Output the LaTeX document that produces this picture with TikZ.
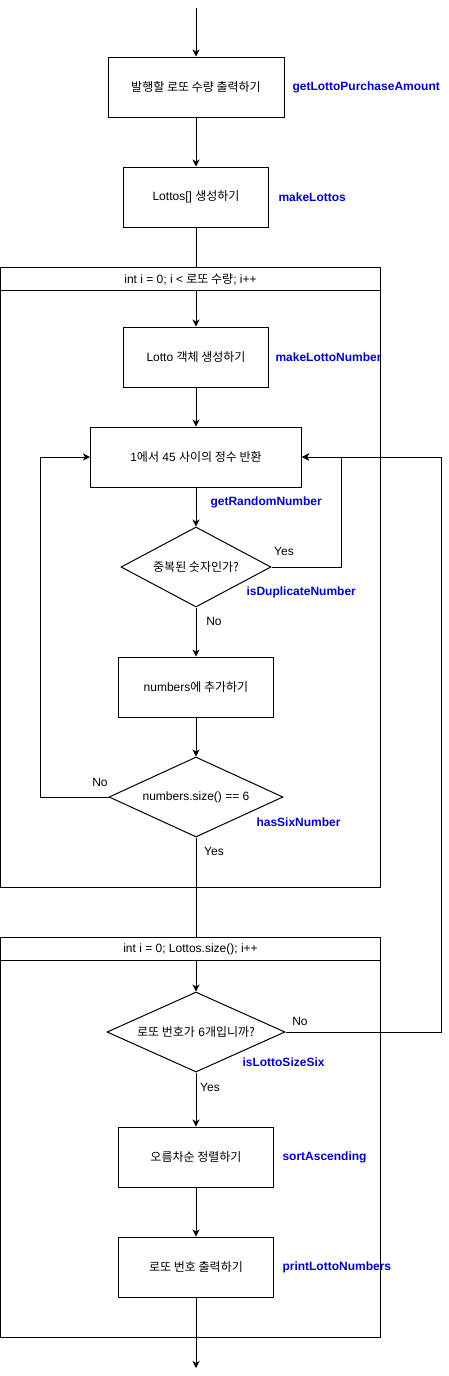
\documentclass[tikz,border=0pt]{standalone}
\usepackage{fontspec}
\setmainfont{Liberation Sans}
\newfontfamily\kr{Noto Sans CJK KR}
\usetikzlibrary{arrows.meta, positioning, shapes.geometric}
\definecolor{cblue}{HTML}{0000CC}
\tikzset{
  every picture/.style={font=\fontsize{12}{14}\selectfont, line width=1pt},
  box/.style={draw, rectangle, align=center, minimum width=#1, minimum height=60pt, inner sep=0pt},
  box/.default=145pt,
  cond/.style={draw, diamond, align=center, inner sep=0pt, aspect=2.2, minimum width=#1, minimum height=80pt},
  cond/.default=150pt,
  loophead/.style={draw, rectangle, minimum width=380pt, minimum height=23pt, inner sep=0pt, anchor=north west},
  method/.style={font=\fontsize{12}{14}\selectfont\bfseries, text=cblue, anchor=west, inner sep=0pt},
  answer/.style={inner sep=0pt},
  arrow/.style={-{Stealth[length=7pt, width=7pt, inset=2pt]}},
}
\begin{document}
\begin{tikzpicture}[x=1pt, y=-1pt]
  \useasboundingbox (0,0) rectangle (449,1376);
  % first part
  \coordinate (start) at (196,8);
  \node[box=176pt] (amount) at (196,87) {\kr 발행할 로또 수량 출력하기};
  \node[method] (mAmount) at (292,87) {getLottoPurchaseAmount};
  \node[box] (lottos) at (196,197) {Lottos[] {\kr 생성하기}};
  \node[method] (mLottos) at (278,197) {makeLottos};
  \draw[arrow] (start) -- (amount);
  \draw[arrow] (amount) -- (lottos);
  % loop 1
  \node[draw, rectangle, minimum width=380pt, minimum height=620pt, inner sep=0pt, anchor=north west] (loop1) at (0,267) {};
  \node[loophead] (head1) at (0,267) {int i = 0; i < {\kr 로또 수량}; i++};
  \draw (lottos.south) -- (lottos.south |- head1.north);
  \node[box] (lotto) at (196,357) {Lotto {\kr 객체 생성하기}};
  \node[method] (mLotto) at (275,357) {makeLottoNumber};
  \draw[arrow] (lotto.north |- head1.south) -- (lotto.north);
  \node[box=211pt] (rand) at (196,457) {1{\kr 에서} 45 {\kr 사이의 정수 반환}};
  \node[method] (mRand) at (210,502) {getRandomNumber};
  \draw[arrow] (lotto) -- (lotto |- rand.north);
  \node[cond] (dup) at (196,567) {\kr 중복된 숫자인가?};
  \node[method] (mDup) at (246,592) {isDuplicateNumber};
  \draw[arrow] (dup |- rand.south) -- (dup.north);
  \draw[arrow] (dup.east) -| ([xshift=39pt]rand.east) -- (rand.east);
  \node[answer] (yes1) at (284,551) {Yes};
  \node[box=155pt] (add) at (196,687) {numbers{\kr 에 추가하기}};
  \draw[arrow] (dup.south) -- (add.north);
  \node[answer] (no1) at (214,621) {No};
  \node[cond=174pt] (six) at (196,797) {numbers.size() == 6};
  \node[method] (mSix) at (256,822) {hasSixNumber};
  \draw[arrow] (add) -- (six.north);
  \draw[arrow] (six.west) -| ([xshift=-50pt]rand.west) -- (rand.west);
  \node[answer] (no2) at (100,782) {No};
  \node[answer] (yes2) at (214,851) {Yes};
  % loop 2
  \node[draw, rectangle, minimum width=380pt, minimum height=400pt, inner sep=0pt, anchor=north west] (loop2) at (0,937) {};
  \node[loophead] (head2) at (0,937) {int i = 0; Lottos.size(); i++};
  \draw (six.south) -- (six.south |- head2.north);
  \node[cond=178pt] (size) at (196,1032) {{\kr 로또 번호가} 6{\kr 개입니까?}};
  \node[method] (mSize) at (242,1062) {isLottoSizeSix};
  \draw[arrow] (size.north |- head2.south) -- (size.north);
  \draw[arrow] (size.east) -| ([xshift=139pt]rand.east) -- (rand.east);
  \node[answer] (no3) at (300,1021) {No};
  \node[box=155pt] (sort) at (196,1157) {\kr 오름차순 정렬하기};
  \node[method] (mSort) at (282,1157) {sortAscending};
  \draw[arrow] (size.south) -- (sort.north);
  \node[answer] (yes3) at (210,1087) {Yes};
  \node[box=155pt] (print) at (196,1267) {\kr 로또 번호 출력하기};
  \node[method] (mPrint) at (282,1267) {printLottoNumbers};
  \draw[arrow] (sort) -- (print);
  \coordinate (finish) at (196,1368);
  \draw[arrow] (print.south) -- (print.south |- finish);
\end{tikzpicture}
\end{document}
